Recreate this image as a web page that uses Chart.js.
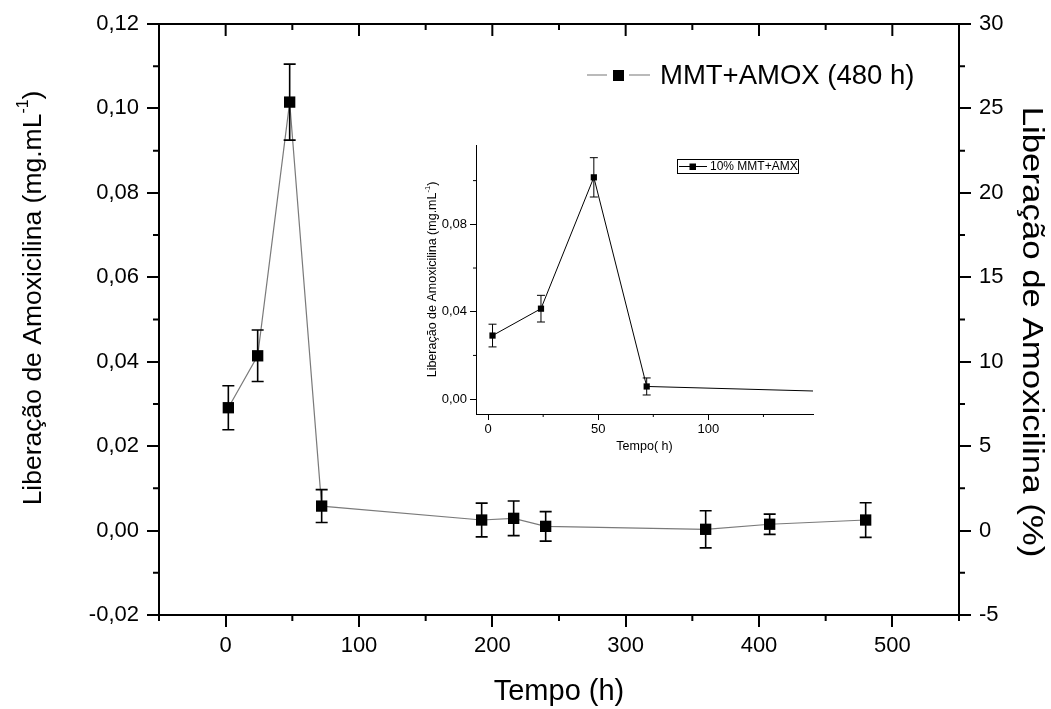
<!DOCTYPE html>
<html>
<head>
<meta charset="utf-8">
<script src="https://cdn.jsdelivr.net/npm/chart.js@4.4.1/dist/chart.umd.min.js"></script>
<style>
  html, body { margin: 0; padding: 0; background: #fff; }
  #wrap { position: relative; width: 1051px; height: 709px; }
  #main { position: absolute; left: 0; top: 0; }
  #inset { position: absolute; left: 400px; top: 130px; }
</style>
</head>
<body>
<div id="wrap">
  <canvas id="main" width="1051" height="709"></canvas>
  <canvas id="inset" width="430" height="330"></canvas>
</div>
<script>
// Dados
const tempo = [2, 24, 48, 72, 192, 216, 240, 360, 408, 480];
const liberacao = [0.0291, 0.0414, 0.1015, 0.0058, 0.0025, 0.0029, 0.0010, 0.0003, 0.0015, 0.0025];
const erro = [0.0052, 0.0061, 0.0090, 0.0039, 0.0040, 0.0041, 0.0035, 0.0044, 0.0024, 0.0041];

const serieLabel = 'MMT+AMOX (480 h)';
const insetLabel = '10% MMT+AMX';

// Marcas dos eixos (gráfico principal)
const xTicks = [0, 100, 200, 300, 400, 500];
const xMinor = [-50, 50, 150, 250, 350, 450, 550];
const yTicks = [-0.02, 0, 0.02, 0.04, 0.06, 0.08, 0.10, 0.12];
const yMinor = [-0.01, 0.01, 0.03, 0.05, 0.07, 0.09, 0.11];
const y2Ticks = [-5, 0, 5, 10, 15, 20, 25, 30];
const y2Minor = [-2.5, 2.5, 7.5, 12.5, 17.5, 22.5, 27.5];

// Marcas dos eixos (inserto)
const insetXTicks = [0, 50, 100];
const insetXMinor = [25, 75, 125];
const insetYTicks = [0, 0.04, 0.08];
const insetYMinor = [0.02, 0.06, 0.10];

const FONT = '"Liberation Sans", Arial, sans-serif';
const virgula = v => v.toFixed(2).replace('.', ',');

// Texto com sobrescrito, opcionalmente girado e esticado
function textoSup(ctx, parts, x, y, rot, size, stretch) {
  ctx.save();
  ctx.translate(x, y);
  ctx.rotate(rot);
  if (stretch) ctx.scale(stretch, 1);
  ctx.fillStyle = '#000';
  ctx.textBaseline = 'middle';
  ctx.textAlign = 'left';
  let total = 0;
  parts.forEach(p => {
    ctx.font = (p.sup ? size * 0.6 : size) + 'px ' + FONT;
    total += ctx.measureText(p.t).width;
  });
  let cx = -total / 2;
  parts.forEach(p => {
    ctx.font = (p.sup ? size * 0.6 : size) + 'px ' + FONT;
    ctx.fillText(p.t, cx, p.sup ? -size * 0.38 : 0);
    cx += ctx.measureText(p.t).width;
  });
  ctx.restore();
}

const tituloY = [
  { t: 'Liberação de Amoxicilina (mg.mL' },
  { t: '-1', sup: true },
  { t: ')' }
];

// Barras de erro
const errorBars = {
  id: 'errorBars',
  afterDatasetsDraw(chart, args, opts) {
    const { ctx, chartArea: a } = chart;
    const xs = chart.scales.x, ys = chart.scales.y;
    ctx.save();
    ctx.strokeStyle = '#000';
    ctx.lineWidth = opts.lineWidth;
    tempo.forEach((t, i) => {
      const x = xs.getPixelForValue(t);
      if (x > a.right + 1) return;
      const yt = ys.getPixelForValue(liberacao[i] + erro[i]);
      const yb = ys.getPixelForValue(liberacao[i] - erro[i]);
      ctx.beginPath();
      ctx.moveTo(x, yt); ctx.lineTo(x, yb);
      ctx.moveTo(x - opts.cap, yt); ctx.lineTo(x + opts.cap, yt);
      ctx.moveTo(x - opts.cap, yb); ctx.lineTo(x + opts.cap, yb);
      ctx.stroke();
    });
    ctx.restore();
  }
};

// Eixo superior, marcas menores, títulos e legenda do gráfico principal
const mainDecor = {
  id: 'mainDecor',
  afterDraw(chart) {
    const { ctx, chartArea: a } = chart;
    const xs = chart.scales.x, ys = chart.scales.y, y2 = chart.scales.y2;
    ctx.save();
    ctx.strokeStyle = '#000';
    ctx.lineWidth = 2;
    ctx.beginPath();
    ctx.moveTo(a.left - 1, a.top); ctx.lineTo(a.right + 1, a.top);
    xTicks.forEach(v => { const x = xs.getPixelForValue(v); ctx.moveTo(x, a.top); ctx.lineTo(x, a.top + 12); });
    xMinor.forEach(v => {
      const x = xs.getPixelForValue(v);
      ctx.moveTo(x, a.top); ctx.lineTo(x, a.top + 6);
      ctx.moveTo(x, a.bottom); ctx.lineTo(x, a.bottom + 6);
    });
    yMinor.forEach(v => { const y = ys.getPixelForValue(v); ctx.moveTo(a.left, y); ctx.lineTo(a.left - 6, y); });
    y2Minor.forEach(v => { const y = y2.getPixelForValue(v); ctx.moveTo(a.right, y); ctx.lineTo(a.right + 6, y); });
    ctx.stroke();

    // títulos dos eixos
    textoSup(ctx, tituloY, 34, 298, -Math.PI / 2, 26.5);
    textoSup(ctx, [{ t: 'Liberação de Amoxicilina (%)' }], 1031, 332, Math.PI / 2, 29, 1.2);
    textoSup(ctx, [{ t: 'Tempo (h)' }], (a.left + a.right) / 2, 692, 0, 29);

    // legenda
    ctx.strokeStyle = '#777';
    ctx.lineWidth = 1.2;
    ctx.beginPath();
    ctx.moveTo(587, 75); ctx.lineTo(607, 75);
    ctx.moveTo(629, 75); ctx.lineTo(650, 75);
    ctx.stroke();
    ctx.fillStyle = '#000';
    ctx.fillRect(613, 70, 11, 11);
    ctx.font = '27.5px ' + FONT;
    ctx.textBaseline = 'middle';
    ctx.fillText(serieLabel, 660, 76);
    ctx.restore();
  }
};

// Decoração do inserto
const insetDecor = {
  id: 'insetDecor',
  afterDraw(chart) {
    const { ctx, chartArea: a } = chart;
    const xs = chart.scales.x, ys = chart.scales.y;
    ctx.save();
    ctx.strokeStyle = '#000';
    ctx.lineWidth = 1;
    ctx.beginPath();
    insetXMinor.forEach(v => { const x = xs.getPixelForValue(v); ctx.moveTo(x, a.bottom); ctx.lineTo(x, a.bottom + 3); });
    insetYMinor.forEach(v => { const y = ys.getPixelForValue(v); ctx.moveTo(a.left, y); ctx.lineTo(a.left - 3, y); });
    ctx.stroke();

    textoSup(ctx, tituloY, 33, (a.top + a.bottom) / 2, -Math.PI / 2, 12.5);
    textoSup(ctx, [{ t: 'Tempo( h)' }], (a.left + a.right) / 2, 317, 0, 12.5);

    // legenda do inserto
    ctx.strokeRect(277.5, 29.5, 121, 14);
    ctx.beginPath();
    ctx.moveTo(279, 36.5); ctx.lineTo(307, 36.5);
    ctx.stroke();
    ctx.fillStyle = '#000';
    ctx.fillRect(289.5, 33.5, 6.5, 6.5);
    ctx.font = '12px ' + FONT;
    ctx.textBaseline = 'middle';
    ctx.fillText(insetLabel, 310, 37);
    ctx.restore();
  }
};

const pontos = tempo.map((t, i) => ({ x: t, y: liberacao[i] }));

function eixo(extra) {
  return Object.assign({
    type: 'linear',
    grid: { display: true, drawOnChartArea: false, drawTicks: true, tickLength: 12, lineWidth: 2, tickWidth: 2, tickColor: '#000' },
    border: { display: true, color: '#000', width: 2 }
  }, extra);
}

// Gráfico principal
new Chart(document.getElementById('main'), {
  type: 'line',
  data: {
    datasets: [{
      label: serieLabel,
      data: pontos,
      borderColor: '#7a7a7a',
      borderWidth: 1.2,
      pointStyle: 'rect',
      pointRadius: 8,
      pointBackgroundColor: '#000',
      pointBorderWidth: 0,
      tension: 0
    }]
  },
  options: {
    responsive: false,
    animation: false,
    layout: { padding: { top: 24, left: 0, right: 0, bottom: 0 } },
    plugins: {
      legend: { display: false },
      tooltip: { enabled: false },
      errorBars: { lineWidth: 1.6, cap: 6 }
    },
    scales: {
      x: eixo({
        position: 'bottom', min: -50, max: 550,
        afterFit: s => { s.height = 94; },
        afterBuildTicks: s => { s.ticks = xTicks.map(v => ({ value: v })); },
        ticks: { color: '#000', font: { family: FONT, size: 22 }, autoSkip: false, maxRotation: 0, padding: 6 }
      }),
      y: eixo({
        position: 'left', min: -0.02, max: 0.12,
        afterFit: s => { s.width = 159; },
        afterBuildTicks: s => { s.ticks = yTicks.map(v => ({ value: v })); },
        ticks: { color: '#000', font: { family: FONT, size: 22 }, autoSkip: false, padding: 8, callback: v => virgula(v) }
      }),
      y2: eixo({
        position: 'right', min: -5, max: 30, display: true,
        afterFit: s => { s.width = 92; },
        afterBuildTicks: s => { s.ticks = y2Ticks.map(v => ({ value: v })); },
        ticks: { color: '#000', font: { family: FONT, size: 22 }, autoSkip: false, padding: 8, callback: v => String(v) }
      })
    }
  },
  plugins: [errorBars, mainDecor]
});

// Inserto (0 a ~150 h)
function eixoInset(extra) {
  return Object.assign({
    type: 'linear',
    grid: { display: true, drawOnChartArea: false, drawTicks: true, tickLength: 6, lineWidth: 1, tickWidth: 1, tickColor: '#000' },
    border: { display: true, color: '#000', width: 1 }
  }, extra);
}

new Chart(document.getElementById('inset'), {
  type: 'line',
  data: {
    datasets: [{
      label: insetLabel,
      data: pontos,
      borderColor: '#000',
      borderWidth: 1,
      pointStyle: 'rect',
      pointRadius: 4.4,
      pointBackgroundColor: '#000',
      pointBorderWidth: 0,
      tension: 0
    }]
  },
  options: {
    responsive: false,
    animation: false,
    layout: { padding: { top: 15, left: 0, right: 17, bottom: 0 } },
    plugins: {
      legend: { display: false },
      tooltip: { enabled: false },
      errorBars: { lineWidth: 1, cap: 4 }
    },
    scales: {
      x: eixoInset({
        position: 'bottom', min: -5.5, max: 147.5,
        afterFit: s => { s.height = 46; },
        afterBuildTicks: s => { s.ticks = insetXTicks.map(v => ({ value: v })); },
        ticks: { color: '#000', font: { family: FONT, size: 13 }, autoSkip: false, maxRotation: 0, padding: 2 }
      }),
      y: eixoInset({
        position: 'left', min: -0.0068, max: 0.1163,
        afterFit: s => { s.width = 76; },
        afterBuildTicks: s => { s.ticks = insetYTicks.map(v => ({ value: v })); },
        ticks: { color: '#000', font: { family: FONT, size: 13 }, autoSkip: false, padding: 3, callback: v => virgula(v) }
      })
    }
  },
  plugins: [errorBars, insetDecor]
});
</script>
</body>
</html>
